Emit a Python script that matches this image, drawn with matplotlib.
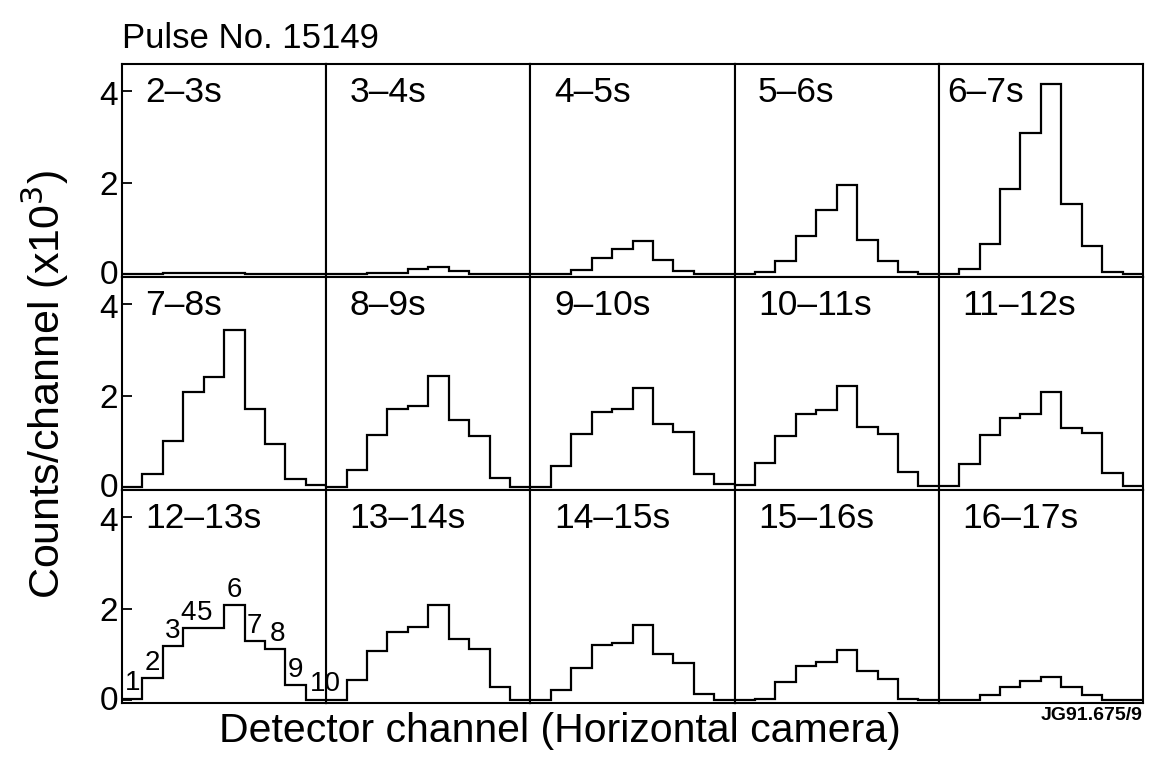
import numpy as np
import matplotlib
matplotlib.use("Agg")
import matplotlib.pyplot as plt
from matplotlib.transforms import ScaledTranslation

plt.rcParams['font.family'] = ['Liberation Sans', 'DejaVu Sans']

# counts per detector channel (x10^3), one array per 1 s time slice
intervals = ["2–3s", "3–4s", "4–5s", "5–6s", "6–7s",
             "7–8s", "8–9s", "9–10s", "10–11s", "11–12s",
             "12–13s", "13–14s", "14–15s", "15–16s", "16–17s"]
s02_03 = [0.00, 0.01, 0.04, 0.04, 0.04, 0.04, 0.02, 0.01, 0.00, 0.00]
s03_04 = [0.00, 0.00, 0.04, 0.04, 0.12, 0.16, 0.07, 0.01, 0.00, 0.00]
s04_05 = [0.01, 0.01, 0.09, 0.35, 0.55, 0.73, 0.31, 0.07, 0.00, 0.00]
s05_06 = [0.00, 0.05, 0.30, 0.84, 1.41, 1.95, 0.75, 0.30, 0.05, 0.00]
s06_07 = [0.00, 0.11, 0.67, 1.86, 3.08, 4.14, 1.54, 0.62, 0.06, 0.02]
s07_08 = [0.02, 0.30, 1.01, 2.07, 2.40, 3.43, 1.70, 0.95, 0.18, 0.06]
s08_09 = [0.00, 0.38, 1.14, 1.71, 1.78, 2.43, 1.47, 1.13, 0.20, 0.00]
s09_10 = [0.00, 0.47, 1.17, 1.65, 1.70, 2.17, 1.38, 1.20, 0.29, 0.07]
s10_11 = [0.06, 0.53, 1.11, 1.59, 1.69, 2.20, 1.31, 1.17, 0.33, 0.04]
s11_12 = [0.04, 0.51, 1.14, 1.52, 1.60, 2.07, 1.29, 1.18, 0.31, 0.04]
s12_13 = [0.04, 0.49, 1.18, 1.57, 1.57, 2.07, 1.29, 1.12, 0.33, 0.02]
s13_14 = [0.00, 0.45, 1.07, 1.50, 1.59, 2.07, 1.33, 1.12, 0.29, 0.02]
s14_15 = [0.00, 0.22, 0.70, 1.20, 1.25, 1.65, 1.01, 0.81, 0.14, 0.00]
s15_16 = [0.00, 0.04, 0.40, 0.76, 0.83, 1.09, 0.65, 0.47, 0.04, 0.00]
s16_17 = [0.00, 0.00, 0.12, 0.30, 0.42, 0.52, 0.29, 0.12, 0.00, 0.00]
channels = np.arange(1, 11)
yticks = [0, 2, 4]

spectra = [s02_03, s03_04, s04_05, s05_06, s06_07,
           s07_08, s08_09, s09_10, s10_11, s11_12,
           s12_13, s13_14, s14_15, s15_16, s16_17]

fig, axes = plt.subplots(3, 5, figsize=(11.56, 7.58), dpi=100)
fig.subplots_adjust(left=122/1156, right=1143/1156, top=1-64/758,
                    bottom=1-703/758, wspace=0, hspace=0)

edges = np.append(channels - 0.5, channels[-1] + 0.5)
for i, ax in enumerate(axes.flat):
    vals = spectra[i]
    ax.stairs(vals, edges, color='black', lw=1.6)
    ax.set_xlim(edges[0], edges[-1])
    ax.set_ylim(-0.055, 4.58)
    for sp in ax.spines.values():
        sp.set_linewidth(1.5)
    ax.set_xticks([])
    xoff = 0.04 if i == 4 else 0.115
    ax.text(xoff, 1 - 38/213, intervals[i], transform=ax.transAxes,
            fontsize=25.5, va='baseline', ha='left')
    if i % 5 == 0:
        ax.set_yticks(yticks)
        ax.set_yticklabels([str(t) for t in yticks])
        ax.tick_params(axis='y', direction='in', length=7, width=1.3,
                       labelsize=24, pad=3)
        # pull the 0 and 4 labels apart a little where rows meet
        labs = ax.get_yticklabels()
        labs[0].set_transform(labs[0].get_transform()
                              + ScaledTranslation(0, 2/72, fig.dpi_scale_trans))
        labs[2].set_transform(labs[2].get_transform()
                              + ScaledTranslation(0, -2/72, fig.dpi_scale_trans))
    else:
        ax.set_yticks([])

# channel numbering on the 12-13 s slice, allowed to run over the border
ax = axes[2, 0]
ax.set_zorder(5)
nudge = {4: -0.25, 5: -0.45, 8: 0.1, 10: 0.45}
for ch, v in zip(channels, s12_13):
    ax.text(ch + nudge.get(ch, 0), v + 0.05, str(ch), fontsize=20,
            ha='center', va='bottom', clip_on=False)

fig.text(122/1156, 1-48/758, "Pulse No. 15149", fontsize=25,
         va='baseline', ha='left')
fig.text(560/1156, 1-742/758, "Detector channel (Horizontal camera)",
         fontsize=29.5, ha='center', va='baseline')
fig.text(45/1156, 1-385/758, "Counts/channel (x10$^3$)", fontsize=31,
         rotation=90, ha='center', va='center')
fig.text(1143/1156, 1-720/758, "JG91.675/9", fontsize=14,
         fontweight='bold', ha='right', va='baseline')

fig.savefig("out.png", dpi=100)
